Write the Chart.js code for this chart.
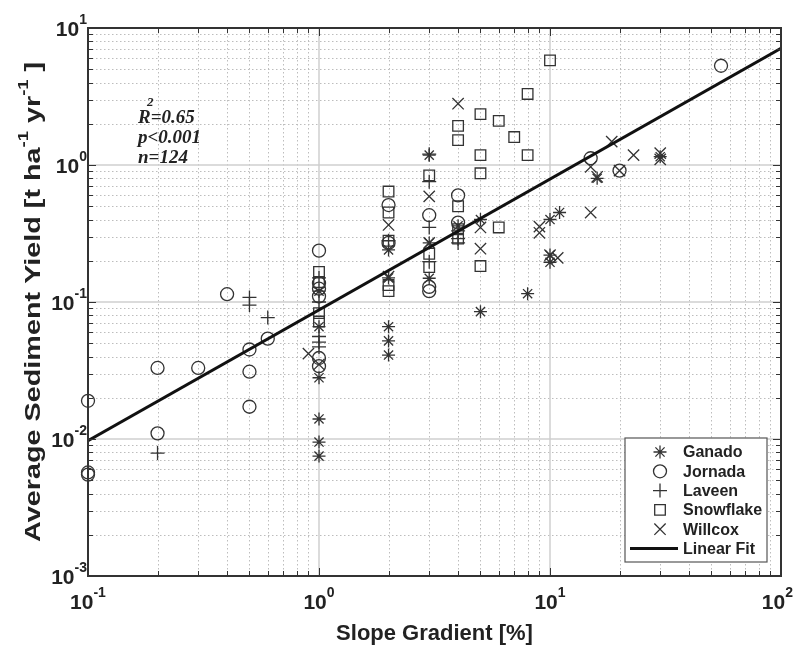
<!DOCTYPE html>
<html>
<head>
<meta charset="utf-8">
<script src="https://cdn.jsdelivr.net/npm/chart.js@4"></script>
<style>
  body { margin: 0; background: #fff; }
</style>
</head>
<body>
<canvas id="sedChart" width="795" height="646"></canvas>
<script>
// values: [slope gradient %, sediment yield t/ha/yr]
const ganado = [
  [1, 0.0075], [1, 0.0095], [1, 0.014], [1, 0.028], [1, 0.066], [1, 0.12],
  [2, 0.041], [2, 0.052], [2, 0.066], [2, 0.15], [2, 0.24],
  [3, 1.18], [3, 0.27], [3, 0.149], [4, 0.36], [5, 0.40], [5, 0.085],
  [8, 0.115], [10, 0.40], [10, 0.195], [10, 0.22], [11, 0.45], [16, 0.8], [30, 1.15]
];
const jornada = [
  [0.1, 0.0055], [0.1, 0.0057], [0.1, 0.019], [0.2, 0.011], [0.2, 0.033], [0.3, 0.033],
  [0.4, 0.114], [0.5, 0.0172], [0.5, 0.031], [0.5, 0.045], [0.6, 0.054],
  [1, 0.034], [1, 0.039], [1, 0.11], [1, 0.125], [1, 0.137], [1, 0.237],
  [2, 0.51], [2, 0.27], [3, 0.43], [3, 0.12], [3, 0.129], [4, 0.60], [4, 0.38],
  [15, 1.12], [20, 0.91], [55, 5.3]
];
const laveen = [
  [0.2, 0.0079], [0.5, 0.095], [0.5, 0.108], [0.6, 0.077],
  [1, 0.047], [1, 0.051], [1, 0.056], [1, 0.15], [1, 0.10],
  [2, 0.28], [3, 1.2], [3, 0.755], [3, 0.35], [3, 0.197], [4, 0.33], [4, 0.29], [4, 0.27]
];
const snowflake = [
  [1, 0.166], [1, 0.14], [1, 0.083], [1, 0.072],
  [2, 0.64], [2, 0.45], [2, 0.28], [2, 0.133], [2, 0.12],
  [3, 0.84], [3, 0.225], [3, 0.18], [4, 1.93], [4, 1.52], [4, 0.50], [4, 0.34], [4, 0.29],
  [5, 2.35], [5, 1.18], [5, 0.87], [5, 0.183], [6, 2.1], [6, 0.35], [7, 1.6],
  [8, 3.3], [8, 1.18], [10, 5.8]
];
const willcox = [
  [0.9, 0.042], [1, 0.035], [2, 0.365], [2, 0.153], [3, 0.59], [3, 0.27], [4, 2.8],
  [5, 0.35], [5, 0.245], [9, 0.355], [9, 0.32], [10, 0.22], [10.8, 0.21],
  [15, 0.97], [15, 0.45], [16, 0.82], [18.5, 1.48], [20, 0.91], [23, 1.18], [30, 1.22], [30, 1.1]
];
const fitX = [0.1, 100];
const fitY = [0.0097, 7.1];

const xDecades = [-1, 0, 1, 2];
const yDecades = [-3, -2, -1, 0, 1];
const statLines = ["=0.65", "p<0.001", "n=124"];

const ink = "#333";
const sans = "'Liberation Sans', Arial, sans-serif";
const serif = "'Liberation Serif', 'Times New Roman', serif";

function toPts(arr) {
  return arr.map(p => ({ x: p[0], y: p[1] }));
}

function marker(label, pts, style, r) {
  return {
    label: label,
    data: toPts(pts),
    pointStyle: style,
    pointRadius: r,
    pointBorderColor: ink,
    pointBackgroundColor: "rgba(0,0,0,0)",
    pointBorderWidth: 1.3,
    showLine: false,
    clip: false,
    order: 1
  };
}

function drawMarker(ctx, style, x, y, r) {
  ctx.beginPath();
  const d = r * Math.SQRT1_2;
  if (style === "circle") {
    ctx.arc(x, y, r, 0, Math.PI * 2);
  } else if (style === "rect") {
    ctx.rect(x - d, y - d, 2 * d, 2 * d);
  } else {
    if (style === "cross" || style === "star") {
      ctx.moveTo(x, y - r); ctx.lineTo(x, y + r);
      ctx.moveTo(x - r, y); ctx.lineTo(x + r, y);
    }
    if (style === "crossRot" || style === "star") {
      ctx.moveTo(x - d, y - d); ctx.lineTo(x + d, y + d);
      ctx.moveTo(x + d, y - d); ctx.lineTo(x - d, y + d);
    }
  }
  ctx.stroke();
}

function powerLabel(ctx, exp, x, y, align) {
  const base = "10", sup = String(exp);
  ctx.font = "bold 21px " + sans;
  const wb = ctx.measureText(base).width;
  ctx.font = "bold 14px " + sans;
  const ws = ctx.measureText(sup).width;
  let left = align === "center" ? x - (wb + ws) / 2 : x - wb - ws;
  left = Math.min(left, 793 - wb - ws);
  ctx.font = "bold 21px " + sans;
  ctx.fillText(base, left, y);
  ctx.font = "bold 14px " + sans;
  ctx.fillText(sup, left + wb, y - 12);
}

const frame = {
  id: "frame",
  beforeDatasetsDraw(chart) {
    const { ctx, chartArea: a, scales } = chart;
    const sx = scales.x, sy = scales.y;
    ctx.save();
    ctx.strokeStyle = "#bdbdbd";
    ctx.lineWidth = 1;
    ctx.setLineDash([1.5, 2.5]);
    ctx.beginPath();
    xDecades.slice(0, -1).forEach(e => {
      for (let m = 2; m <= 9; m++) {
        const px = Math.round(sx.getPixelForValue(m * Math.pow(10, e))) + 0.5;
        ctx.moveTo(px, a.top); ctx.lineTo(px, a.bottom);
      }
    });
    yDecades.slice(0, -1).forEach(e => {
      for (let m = 2; m <= 9; m++) {
        const py = Math.round(sy.getPixelForValue(m * Math.pow(10, e))) + 0.5;
        ctx.moveTo(a.left, py); ctx.lineTo(a.right, py);
      }
    });
    ctx.stroke();
    ctx.setLineDash([]);
    ctx.strokeStyle = "#cfcfcf";
    ctx.lineWidth = 1.5;
    ctx.beginPath();
    xDecades.slice(1, -1).forEach(e => {
      const px = sx.getPixelForValue(Math.pow(10, e));
      ctx.moveTo(px, a.top); ctx.lineTo(px, a.bottom);
    });
    yDecades.slice(1, -1).forEach(e => {
      const py = sy.getPixelForValue(Math.pow(10, e));
      ctx.moveTo(a.left, py); ctx.lineTo(a.right, py);
    });
    ctx.stroke();
    ctx.restore();
  },
  afterDatasetsDraw(chart) {
    const { ctx, chartArea: a, scales } = chart;
    const sx = scales.x, sy = scales.y;
    ctx.save();

    // inward ticks on all four sides
    ctx.strokeStyle = ink;
    ctx.lineWidth = 1;
    ctx.beginPath();
    xDecades.forEach((e, i) => {
      for (let m = 1; m <= 9; m++) {
        if (i === xDecades.length - 1 && m > 1) break;
        const px = Math.round(sx.getPixelForValue(m * Math.pow(10, e))) + 0.5;
        const len = m === 1 ? 8 : 5;
        ctx.moveTo(px, a.bottom); ctx.lineTo(px, a.bottom - len);
        ctx.moveTo(px, a.top); ctx.lineTo(px, a.top + len);
      }
    });
    yDecades.forEach((e, i) => {
      for (let m = 1; m <= 9; m++) {
        if (i === yDecades.length - 1 && m > 1) break;
        const py = Math.round(sy.getPixelForValue(m * Math.pow(10, e))) + 0.5;
        const len = m === 1 ? 8 : 5;
        ctx.moveTo(a.left, py); ctx.lineTo(a.left + len, py);
        ctx.moveTo(a.right, py); ctx.lineTo(a.right - len, py);
      }
    });
    ctx.stroke();

    // box
    ctx.lineWidth = 2;
    ctx.strokeRect(a.left, a.top, a.right - a.left, a.bottom - a.top);

    // tick labels
    ctx.fillStyle = "#222";
    ctx.textBaseline = "alphabetic";
    xDecades.forEach(e => powerLabel(ctx, e, sx.getPixelForValue(Math.pow(10, e)), 609, "center"));
    yDecades.forEach(e => powerLabel(ctx, e, 87, sy.getPixelForValue(Math.pow(10, e)) + 8, "right"));

    // axis titles
    ctx.font = "bold 22px " + sans;
    ctx.textAlign = "center";
    ctx.fillText("Slope Gradient [%]", (a.left + a.right) / 2, 640);

    ctx.save();
    ctx.translate(40, (a.top + a.bottom) / 2);
    ctx.rotate(-Math.PI / 2);
    const parts = [["Average Sediment Yield [t ha", false], ["-1", true], [" yr", false], ["-1", true], [" ]", false]];
    let total = 0;
    parts.forEach(p => {
      ctx.font = p[1] ? "bold 14px " + sans : "bold 22px " + sans;
      total += ctx.measureText(p[0]).width;
    });
    const k = 480 / total;
    ctx.scale(k, 1);
    ctx.textAlign = "left";
    let cx = -total / 2;
    parts.forEach(p => {
      ctx.font = p[1] ? "bold 14px " + sans : "bold 22px " + sans;
      ctx.fillText(p[0], cx, p[1] ? -12 : 0);
      cx += ctx.measureText(p[0]).width;
    });
    ctx.restore();

    // statistics
    ctx.textAlign = "left";
    ctx.font = "bold italic 19px " + serif;
    ctx.fillText("R", 138, 123);
    const rw = ctx.measureText("R").width;
    ctx.fillText(statLines[0], 138 + rw, 123);
    ctx.fillText(statLines[1], 138, 143);
    ctx.fillText(statLines[2], 138, 163);
    ctx.font = "bold italic 13px " + serif;
    ctx.fillText("2", 147, 106);

    // legend
    const lx = 625, ly = 438, lw = 142, lh = 124;
    ctx.fillStyle = "#fff";
    ctx.fillRect(lx, ly, lw, lh);
    ctx.strokeStyle = "#555";
    ctx.lineWidth = 1.2;
    ctx.strokeRect(lx, ly, lw, lh);
    ctx.font = "bold 16px " + sans;
    ctx.fillStyle = "#222";
    ctx.textBaseline = "middle";
    chart.data.datasets.forEach((ds, i) => {
      const y = 452 + i * 19.3;
      if (ds.showLine) {
        ctx.strokeStyle = "#111";
        ctx.lineWidth = 3;
        ctx.beginPath();
        ctx.moveTo(630, y); ctx.lineTo(678, y);
        ctx.stroke();
      } else {
        ctx.strokeStyle = ink;
        ctx.lineWidth = 1.3;
        drawMarker(ctx, ds.pointStyle, 660, y, ds.pointRadius);
      }
      ctx.fillText(ds.label, 683, y + 1);
    });
    ctx.restore();
  }
};

new Chart("sedChart", {
  type: "scatter",
  data: {
    datasets: [
      marker("Ganado", ganado, "star", 6.5),
      marker("Jornada", jornada, "circle", 6.5),
      marker("Laveen", laveen, "cross", 7),
      marker("Snowflake", snowflake, "rect", 7.5),
      marker("Willcox", willcox, "crossRot", 8),
      {
        label: "Linear Fit",
        data: fitX.map((v, i) => ({ x: v, y: fitY[i] })),
        showLine: true,
        borderColor: "#111",
        borderWidth: 3,
        pointRadius: 0,
        order: 0
      }
    ]
  },
  options: {
    responsive: false,
    animation: false,
    layout: { padding: { left: 88, right: 14, top: 28, bottom: 70 } },
    scales: {
      x: { type: "logarithmic", min: 0.1, max: 100, display: false },
      y: { type: "logarithmic", min: 0.001, max: 10, display: false }
    },
    plugins: {
      legend: { display: false },
      tooltip: { enabled: false }
    }
  },
  plugins: [frame]
});
</script>
</body>
</html>
